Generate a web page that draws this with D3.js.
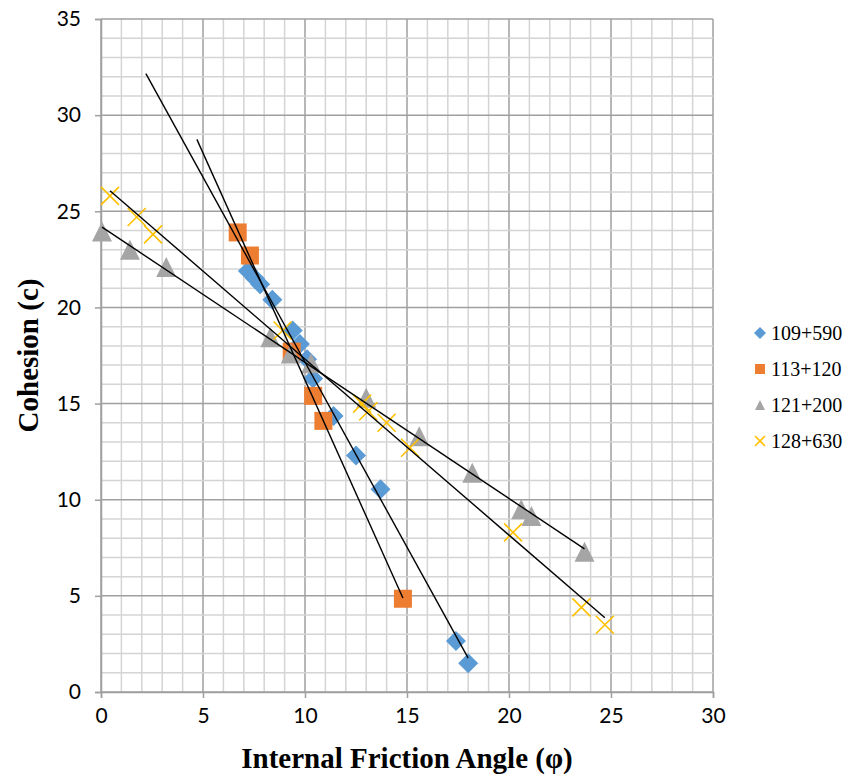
<!DOCTYPE html>
<html>
<head>
<meta charset="utf-8">
<script src="https://cdn.jsdelivr.net/npm/d3@7"></script>
<style>
  html, body { margin: 0; padding: 0; background: #fff; }
  svg { display: block; }
</style>
</head>
<body>
<svg id="chart" width="850" height="776"></svg>
<script>
// series names (legend)
const seriesNames = ['109+590', '113+120', '121+200', '128+630'];

// 109+590
const phi1 = [7.2, 7.55, 7.8, 8.4, 9.4, 9.75, 10.1, 10.4, 11.4, 12.5, 13.7, 17.4, 18.0];
const coh1 = [21.9, 21.5, 21.2, 20.4, 18.8, 18.1, 17.3, 16.3, 14.35, 12.3, 10.55, 2.65, 1.5];

// 113+120
const phi2 = [6.7, 7.3, 9.35, 10.4, 10.9, 14.8];
const coh2 = [23.9, 22.7, 17.7, 15.4, 14.1, 4.85];

// 121+200
const phi3 = [0.05, 1.42, 3.2, 8.3, 9.3, 10.3, 13.0, 15.6, 18.2, 20.6, 21.1, 23.7];
const coh3 = [23.95, 23.0, 22.1, 18.45, 17.6, 17.1, 15.3, 13.3, 11.4, 9.5, 9.15, 7.3];

// 128+630
const phi4 = [0.44, 1.75, 2.55, 8.9, 12.8, 13.1, 14.0, 15.15, 20.2, 23.55, 24.7];
const coh4 = [25.8, 24.7, 23.8, 18.8, 15.0, 14.6, 14.0, 12.7, 8.3, 4.4, 3.5];

// trendline backward forecast (units of phi)
const trendBackward = [5, 2, 0, 0];

const xTicks = [0, 5, 10, 15, 20, 25, 30];
const yTicks = [0, 5, 10, 15, 20, 25, 30, 35];

const colors = ['#5B9BD5', '#ED7D31', '#A5A5A5', '#FFC000'];
const shapes = ['diamond', 'square', 'triangle', 'cross'];

const series = [
  {xs: phi1, ys: coh1},
  {xs: phi2, ys: coh2},
  {xs: phi3, ys: coh3},
  {xs: phi4, ys: coh4}
];

const svg = d3.select('#chart');
const margin = {top: 19, right: 137, bottom: 84, left: 101};
const width = 850, height = 776;

const x = d3.scaleLinear().domain([0, 30]).range([margin.left, width - margin.right]);
const y = d3.scaleLinear().domain([0, 35]).range([height - margin.bottom, margin.top]);

// minor grid (every 1 unit)
const grid = svg.append('g');
grid.selectAll('.vmin').data(d3.range(0, 31)).enter().append('line')
  .attr('x1', d => x(d)).attr('x2', d => x(d))
  .attr('y1', y(0)).attr('y2', y(35))
  .attr('stroke', d => d % 5 === 0 ? '#9f9f9f' : '#d4d4d4')
  .attr('stroke-width', 1.5);
grid.selectAll('.hmin').data(d3.range(0, 36)).enter().append('line')
  .attr('y1', d => y(d)).attr('y2', d => y(d))
  .attr('x1', x(0)).attr('x2', x(30))
  .attr('stroke', d => d % 5 === 0 ? '#9f9f9f' : '#d4d4d4')
  .attr('stroke-width', 1.5);

// axes
const xAxis = d3.axisBottom(x).tickValues(xTicks).tickSize(6).tickPadding(10);
const yAxis = d3.axisLeft(y).tickValues(yTicks).tickSize(6).tickPadding(14);

const gx = svg.append('g').attr('transform', 'translate(0,' + y(0) + ')').call(xAxis);
const gy = svg.append('g').attr('transform', 'translate(' + x(0) + ',0)').call(yAxis);

[gx, gy].forEach(g => {
  g.select('.domain').attr('stroke', '#9f9f9f').attr('stroke-width', 1.5);
  g.selectAll('.tick line').attr('stroke', '#9f9f9f').attr('stroke-width', 1.5);
  g.selectAll('.tick text')
    .attr('fill', '#000')
    .style('font-family', 'Lato, "Open Sans", sans-serif')
    .style('font-size', '21px');
});

// marker path generator
function markerPath(shape, s) {
  const h = s / 2;
  if (shape === 'diamond') return `M0,${-h}L${h},0L0,${h}L${-h},0Z`;
  if (shape === 'square') return `M${-h},${-h}H${h}V${h}H${-h}Z`;
  if (shape === 'triangle') return `M0,${-h}L${h},${h}L${-h},${h}Z`;
  return `M${-h},${-h}L${h},${h}M${h},${-h}L${-h},${h}`;
}
const markerSize = [20, 18, 20, 18];

function styleMarker(sel, i) {
  if (shapes[i] === 'cross') {
    sel.attr('fill', 'none').attr('stroke', colors[i]).attr('stroke-width', 1.6);
  } else {
    sel.attr('fill', colors[i]).attr('stroke', 'none');
  }
}

// points
series.forEach((s, i) => {
  const pts = s.xs.map((v, k) => [v, s.ys[k]]);
  const g = svg.append('g');
  g.selectAll('path').data(pts).enter().append('path')
    .attr('d', markerPath(shapes[i], markerSize[i]))
    .attr('transform', d => 'translate(' + x(d[0]) + ',' + y(d[1]) + ')')
    .call(sel => styleMarker(sel, i));
});

// linear trendlines
function linreg(xs, ys) {
  const mx = d3.mean(xs), my = d3.mean(ys);
  let sxy = 0, sxx = 0;
  xs.forEach((v, k) => { sxy += (v - mx) * (ys[k] - my); sxx += (v - mx) * (v - mx); });
  const b = sxy / sxx;
  return {b: b, a: my - b * mx};
}

series.forEach((s, i) => {
  const r = linreg(s.xs, s.ys);
  const x0 = d3.min(s.xs) - trendBackward[i];
  const x1 = d3.max(s.xs);
  svg.append('line')
    .attr('x1', x(x0)).attr('y1', y(r.a + r.b * x0))
    .attr('x2', x(x1)).attr('y2', y(r.a + r.b * x1))
    .attr('stroke', '#000').attr('stroke-width', 1.4);
});

// axis titles
svg.append('text')
  .attr('x', (x(0) + x(30)) / 2)
  .attr('y', 768)
  .attr('text-anchor', 'middle')
  .style('font-family', '"Liberation Serif", "Times New Roman", serif')
  .style('font-weight', 'bold')
  .style('font-size', '29px')
  .text('Internal Friction Angle (φ)');

svg.append('text')
  .attr('transform', 'translate(38,' + ((y(0) + y(35)) / 2) + ') rotate(-90)')
  .attr('text-anchor', 'middle')
  .style('font-family', '"Liberation Serif", "Times New Roman", serif')
  .style('font-weight', 'bold')
  .style('font-size', '29px')
  .text('Cohesion (c)');

// legend
const legend = svg.append('g').attr('transform', 'translate(760,333)');
seriesNames.forEach((name, i) => {
  const row = legend.append('g').attr('transform', 'translate(0,' + (i * 36) + ')');
  row.append('path')
    .attr('d', markerPath(shapes[i], shapes[i] === 'diamond' ? 12 : 10))
    .call(sel => styleMarker(sel, i));
  row.append('text')
    .attr('x', 11).attr('y', 7)
    .style('font-family', '"Liberation Serif", "Times New Roman", serif')
    .style('font-size', '20px')
    .text(name);
});
</script>
</body>
</html>
